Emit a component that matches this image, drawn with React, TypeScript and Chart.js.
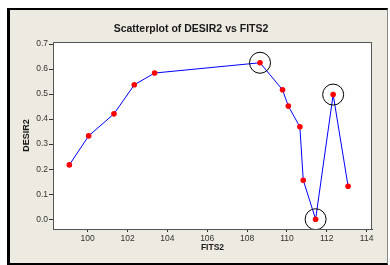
import React, { useEffect, useRef } from "react";
import { Chart, registerables } from "chart.js";

Chart.register(...registerables);

const fits2 = [99.08, 100.05, 101.32, 102.34, 103.36, 108.65, 109.78, 110.07, 110.65, 110.82, 111.44, 112.32, 113.07];
const desir2 = [0.217, 0.333, 0.421, 0.537, 0.584, 0.625, 0.517, 0.452, 0.369, 0.156, 0.0, 0.498, 0.132];
const circledIdx = [5, 10, 11];
const xTicks = [100, 102, 104, 106, 108, 110, 112, 114];
const yTicks = [0.0, 0.1, 0.2, 0.3, 0.4, 0.5, 0.6, 0.7];

const FONT = "'Liberation Sans', Arial, sans-serif";

const plotFrame = {
  id: "plotFrame",
  beforeDraw(chart: any) {
    const { ctx, chartArea: a } = chart;
    ctx.save();
    ctx.fillStyle = "#ffffff";
    ctx.fillRect(a.left, a.top, a.right - a.left, a.bottom - a.top);
    ctx.restore();
  },
  afterDraw(chart: any) {
    const { ctx, chartArea: a } = chart;
    ctx.save();
    ctx.strokeStyle = "#555555";
    ctx.lineWidth = 1;
    ctx.strokeRect(Math.round(a.left) + 0.5, Math.round(a.top) + 0.5, Math.round(a.right - a.left) - 1, Math.round(a.bottom - a.top));
    ctx.restore();
  },
};

export default function App() {
  const ref = useRef<HTMLCanvasElement | null>(null);

  useEffect(() => {
    if (!ref.current) return;
    const points = fits2.map((x, i) => ({ x, y: desir2[i] }));
    const circled = circledIdx.map((i) => ({ x: fits2[i], y: desir2[i] }));
    const chart = new Chart(ref.current, {
      type: "scatter",
      data: {
        datasets: [
          {
            label: "circled",
            data: circled,
            showLine: false,
            pointRadius: 10.5,
            pointHoverRadius: 10.5,
            pointBackgroundColor: "rgba(0,0,0,0)",
            pointBorderColor: "#000000",
            pointBorderWidth: 1,
          },
          {
            label: "DESIR2",
            data: points,
            showLine: true,
            borderColor: "#0000ff",
            borderWidth: 1,
            pointRadius: 2.8,
            pointBackgroundColor: "#ff0000",
            pointBorderColor: "#ff0000",
            pointBorderWidth: 0,
          },
        ],
      },
      options: {
        animation: false,
        responsive: false,
        maintainAspectRatio: false,
        layout: { padding: { left: 0, right: 15, top: 0, bottom: 0 } },
        plugins: {
          legend: { display: false },
          tooltip: { enabled: false },
          title: {
            display: true,
            text: "Scatterplot of DESIR2 vs FITS2",
            color: "#1a1a1a",
            font: { family: FONT, size: 10.5, weight: "bold" },
            padding: { top: 12.7, bottom: 6.7 },
          },
        },
        scales: {
          x: {
            type: "linear",
            min: 98.26,
            max: 114.27,
            afterBuildTicks: (s: any) => {
              s.ticks = xTicks.map((v) => ({ value: v }));
            },
            afterFit: (s: any) => {
              s.height = 34;
            },
            grid: { drawOnChartArea: false, drawTicks: true, tickLength: 3, tickColor: "#333333" },
            border: { display: true, color: "#333333" },
            ticks: { color: "#333333", font: { family: FONT, size: 8.5 }, padding: 2, maxRotation: 0 },
            title: {
              display: true,
              text: "FITS2",
              color: "#1a1a1a",
              font: { family: FONT, size: 8.5, weight: "bold" },
              padding: { top: 0, bottom: 9.9 },
            },
          },
          y: {
            type: "linear",
            min: -0.039,
            max: 0.708,
            afterBuildTicks: (s: any) => {
              s.ticks = yTicks.map((v) => ({ value: v }));
            },
            afterFit: (s: any) => {
              s.width = 43;
            },
            grid: { drawOnChartArea: false, drawTicks: true, tickLength: 4, tickColor: "#333333" },
            border: { display: true, color: "#333333" },
            ticks: {
              color: "#333333",
              font: { family: FONT, size: 8.5 },
              padding: 1,
              callback: (v: any) => Number(v).toFixed(1),
            },
            title: {
              display: true,
              text: "DESIR2",
              color: "#1a1a1a",
              font: { family: FONT, size: 9, weight: "bold" },
              padding: { top: 11.6, bottom: 0 },
            },
          },
        },
      },
      plugins: [plotFrame],
    });
    return () => chart.destroy();
  }, []);

  return (
    <div
      style={{
        position: "absolute",
        left: 7,
        top: 8,
        width: 377,
        height: 253,
        borderTop: "2px solid #000",
        borderLeft: "3px solid #000",
        borderBottom: "2px solid #000",
        borderRight: "1px solid #888",
        background: "#EDEAE1",
      }}
    >
      <canvas ref={ref} width={377} height={253} style={{ display: "block", width: 377, height: 253 }} />
    </div>
  );
}
